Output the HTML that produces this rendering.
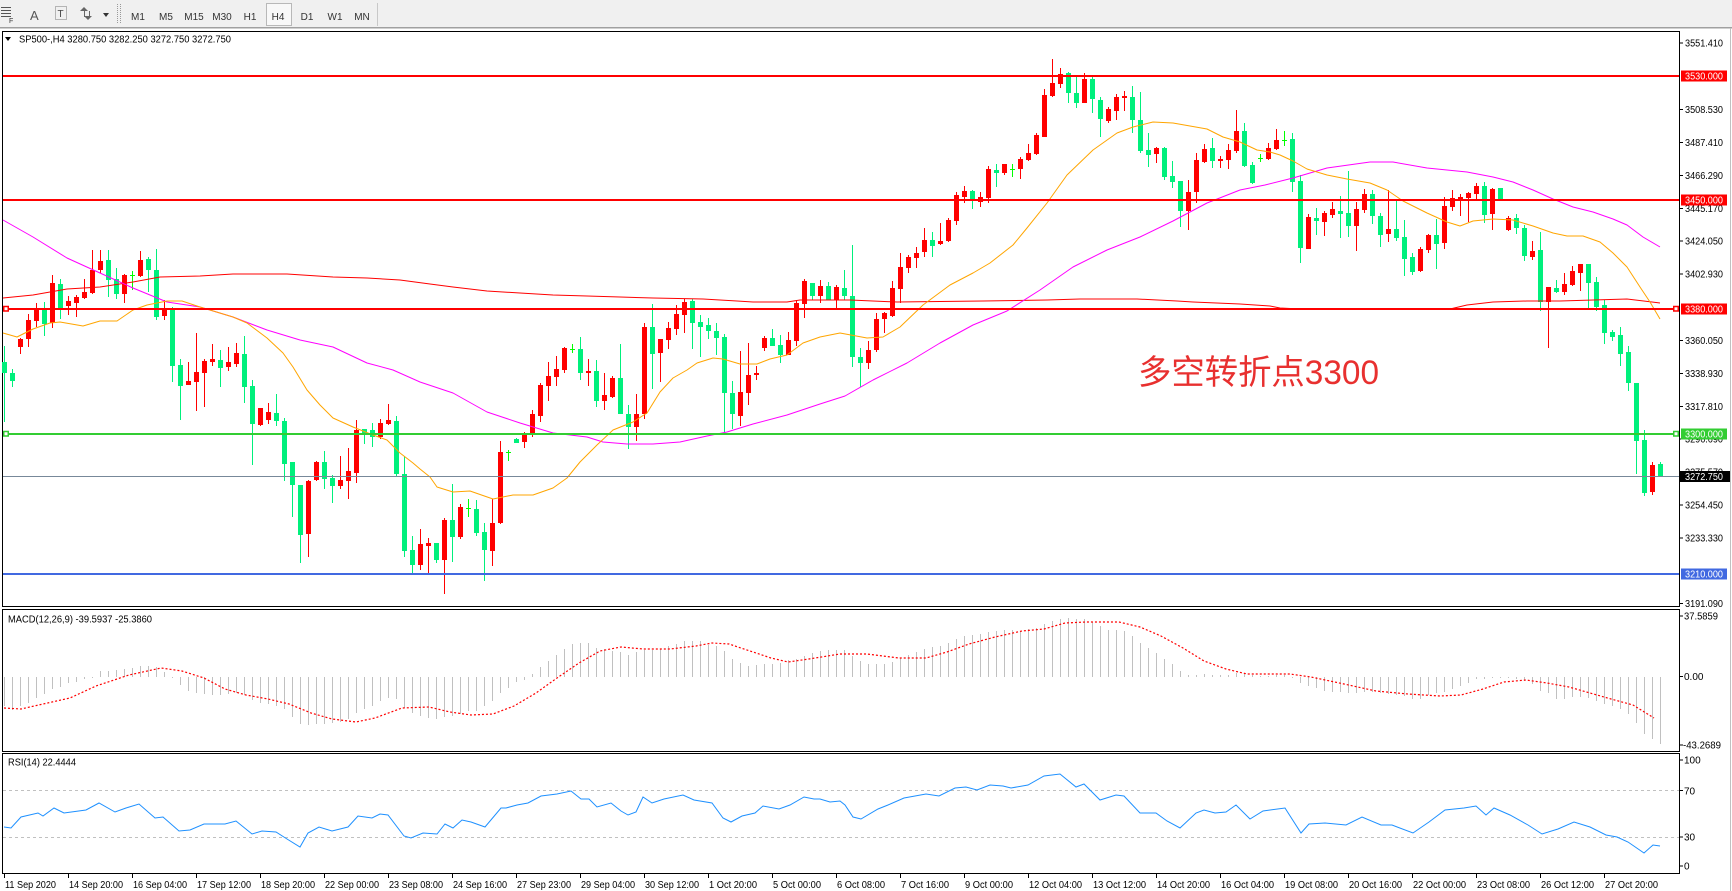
<!DOCTYPE html>
<html>
<head>
<meta charset="utf-8">
<style>
html,body{margin:0;padding:0;background:#fff;}
body{width:1732px;height:891px;overflow:hidden;}
svg{display:block;}
text{font-family:"Liberation Sans",sans-serif;}
</style>
</head>
<body>
<svg width="1732" height="891" viewBox="0 0 1732 891" xmlns="http://www.w3.org/2000/svg">
<rect x="0" y="0" width="1732" height="891" fill="#ffffff"/>
<!-- toolbar -->
<rect x="0" y="0" width="1732" height="27" fill="#f0f0f0"/>
<rect x="0" y="27" width="1732" height="1.5" fill="#a0a0a0"/>
<g fill="#555">
<rect x="1" y="7" width="10" height="1"/><rect x="1" y="10" width="10" height="1"/><rect x="1" y="13" width="10" height="1"/><rect x="1" y="16" width="10" height="1"/>
</g>
<text x="9" y="23" font-size="7" fill="#333">F</text>
<text x="30" y="20" font-size="13" fill="#555">A</text>
<rect x="55.5" y="6.5" width="11" height="13" fill="none" stroke="#777" stroke-dasharray="1 1"/>
<text x="57.5" y="17" font-size="10" fill="#444">T</text>
<polygon points="84,7 88,11 80,11" fill="#666"/><polygon points="88,20 92,16 84,16" fill="#666"/>
<rect x="84" y="11" width="1" height="6" fill="#666"/><rect x="89" y="11" width="1" height="5" fill="#666"/>
<polygon points="103,13 109,13 106,17" fill="#333"/>
<line x1="117.5" y1="4" x2="117.5" y2="24" stroke="#999" stroke-dasharray="1 1"/>
<line x1="120.5" y1="4" x2="120.5" y2="24" stroke="#999" stroke-dasharray="1 1"/>
<rect x="266.5" y="3.5" width="25" height="22" fill="#f8f8f8" stroke="#b8b8b8"/>
<g font-size="10" fill="#333" text-anchor="middle">
<text x="138" y="20">M1</text><text x="166" y="20">M5</text><text x="194" y="20">M15</text><text x="222" y="20">M30</text><text x="250" y="20">H1</text><text x="278" y="20">H4</text><text x="307" y="20">D1</text><text x="335" y="20">W1</text><text x="362" y="20">MN</text>
</g>
<line x1="377.5" y1="3" x2="377.5" y2="26" stroke="#c8c8c8"/>

<!-- frames -->
<g fill="none" stroke="#000" stroke-width="1">
<rect x="2.5" y="31.5" width="1677" height="575"/>
<rect x="2.5" y="609.5" width="1677" height="142"/>
<rect x="2.5" y="753.5" width="1677" height="120"/>
</g>
<line x1="1730.5" y1="28" x2="1730.5" y2="891" stroke="#c0c0c0"/>

<!-- header -->
<polygon points="5,37 11,37 8,41" fill="#000"/>
<text x="19" y="42.5" font-size="10" fill="#000" textLength="212" lengthAdjust="spacingAndGlyphs">SP500-,H4  3280.750 3282.250 3272.750 3272.750</text>

<!-- candles -->
<g shape-rendering="crispEdges">
<path fill="none" stroke="#ff0000" stroke-width="1" d="M20.5 338V354 M28.5 314V347 M36.5 303V327 M52.5 275V328 M68.5 296V315 M76.5 295V317 M84.5 279V299 M92.5 250V294 M100.5 250V273 M124.5 274V303 M140.5 251V277 M164.5 300V320 M188.5 362V385 M196.5 333V411 M204.5 359V407 M212.5 344V366 M228.5 347V371 M236.5 343V367 M260.5 408V426 M268.5 403V424 M308.5 480V557 M316.5 461V481 M340.5 456V489 M348.5 448V499 M356.5 420V483 M380.5 419V439 M388.5 404V425 M420.5 529V570 M428.5 538V573 M444.5 518V594 M460.5 504V539 M492.5 499V566 M500.5 441V524 M524.5 432V448 M532.5 410V437 M540.5 383V422 M548.5 362V401 M556.5 356V386 M564.5 347V373 M588.5 359V386 M604.5 373V410 M612.5 376V398 M636.5 394V441 M644.5 323V419 M660.5 339V382 M668.5 322V349 M676.5 305V335 M684.5 299V333 M740.5 351V426 M748.5 343V405 M756.5 366V380 M764.5 336V351 M788.5 332V355 M796.5 300V346 M804.5 279V318 M820.5 280V303 M836.5 285V308 M868.5 341V369 M876.5 313V352 M884.5 312V333 M892.5 281V317 M900.5 253V303 M908.5 255V273 M916.5 247V268 M924.5 228V257 M940.5 223V245 M948.5 218V242 M956.5 192V225 M964.5 186V203 M980.5 192V207 M988.5 166V203 M1004.5 164V175 M1020.5 157V179 M1028.5 144V161 M1036.5 133V155 M1044.5 89V137 M1052.5 59V97 M1060.5 68V88 M1084.5 73V103 M1108.5 107V123 M1116.5 94V120 M1124.5 91V111 M1156.5 147V163 M1188.5 180V230 M1196.5 153V203 M1204.5 144V163 M1220.5 156V168 M1228.5 144V169 M1236.5 110V153 M1268.5 143V160 M1276.5 129V150 M1308.5 214V249 M1324.5 211V236 M1332.5 202V218 M1356.5 202V251 M1364.5 189V213 M1388.5 190V242 M1420.5 247V272 M1428.5 234V253 M1444.5 197V249 M1452.5 190V211 M1460.5 194V216 M1468.5 192V222 M1476.5 183V199 M1492.5 188V230 M1508.5 216V231 M1532.5 241V260 M1548.5 287V348 M1564.5 273V295 M1572.5 266V286 M1580.5 264V291 M1652.5 462V495"/>
<path fill="#ff0000" d="M18 339h5v8h-5z M26 320h5v19h-5z M34 309h5v12h-5z M50 283h5v40h-5z M66 301h5v5h-5z M74 297h5v6h-5z M82 292h5v6h-5z M90 270h5v23h-5z M98 261h5v9h-5z M122 275h5v19h-5z M138 260h5v16h-5z M162 309h5v7h-5z M186 381h5v4h-5z M194 372h5v10h-5z M202 361h5v12h-5z M210 359h5v3h-5z M226 362h5v5h-5z M234 353h5v11h-5z M258 408h5v17h-5z M266 412h5v8h-5z M306 481h5v53h-5z M314 462h5v18h-5z M338 480h5v6h-5z M346 471h5v10h-5z M354 430h5v43h-5z M378 423h5v14h-5z M386 420h5v4h-5z M418 544h5v21h-5z M426 543h5v3h-5z M442 520h5v40h-5z M458 507h5v30h-5z M490 523h5v28h-5z M498 452h5v71h-5z M522 434h5v8h-5z M530 414h5v19h-5z M538 385h5v31h-5z M546 376h5v10h-5z M554 369h5v8h-5z M562 348h5v22h-5z M586 371h5v2h-5z M602 395h5v6h-5z M610 378h5v19h-5z M634 414h5v13h-5z M642 327h5v87h-5z M658 339h5v14h-5z M666 328h5v12h-5z M674 314h5v15h-5z M682 302h5v13h-5z M738 392h5v24h-5z M746 375h5v18h-5z M754 373h5v2h-5z M762 338h5v10h-5z M786 340h5v15h-5z M794 303h5v38h-5z M802 281h5v23h-5z M818 286h5v10h-5z M834 287h5v13h-5z M866 350h5v13h-5z M874 319h5v31h-5z M882 313h5v6h-5z M890 288h5v28h-5z M898 267h5v22h-5z M906 257h5v11h-5z M914 253h5v5h-5z M922 240h5v12h-5z M938 241h5v3h-5z M946 220h5v21h-5z M954 195h5v26h-5z M962 191h5v6h-5z M978 197h5v5h-5z M986 169h5v29h-5z M1002 164h5v9h-5z M1018 159h5v10h-5z M1026 153h5v7h-5z M1034 135h5v19h-5z M1042 95h5v42h-5z M1050 83h5v13h-5z M1058 74h5v10h-5z M1082 79h5v24h-5z M1106 109h5v12h-5z M1114 97h5v14h-5z M1122 96h5v2h-5z M1154 148h5v6h-5z M1186 192h5v19h-5z M1194 160h5v32h-5z M1202 149h5v13h-5z M1218 159h5v2h-5z M1226 150h5v10h-5z M1234 131h5v20h-5z M1266 148h5v11h-5z M1274 140h5v9h-5z M1306 217h5v32h-5z M1322 213h5v9h-5z M1330 209h5v6h-5z M1354 209h5v17h-5z M1362 194h5v16h-5z M1386 229h5v5h-5z M1418 249h5v22h-5z M1426 235h5v15h-5z M1442 206h5v37h-5z M1450 198h5v9h-5z M1458 197h5v2h-5z M1466 193h5v5h-5z M1474 186h5v8h-5z M1490 189h5v25h-5z M1506 218h5v12h-5z M1530 251h5v6h-5z M1546 287h5v15h-5z M1562 284h5v8h-5z M1570 271h5v14h-5z M1578 264h5v9h-5z M1650 465h5v27h-5z"/>
<path fill="none" stroke="#00f07c" stroke-width="1" d="M4.5 346V422 M12.5 369V387 M44.5 302V336 M60.5 279V319 M108.5 250V297 M116.5 268V299 M148.5 257V292 M156.5 249V320 M172.5 307V382 M180.5 359V420 M220.5 350V387 M244.5 336V403 M252.5 380V465 M276.5 394V426 M284.5 418V481 M292.5 462V517 M300.5 485V563 M324.5 451V489 M332.5 475V503 M364.5 429V444 M372.5 423V447 M396.5 416V476 M404.5 456V557 M412.5 536V573 M436.5 543V563 M452.5 484V562 M476.5 500V536 M484.5 523V581 M516.5 438V443 M580.5 337V380 M596.5 360V407 M620.5 344V414 M628.5 405V449 M652.5 304V389 M692.5 299V349 M700.5 315V357 M708.5 318V339 M716.5 323V355 M724.5 334V433 M732.5 381V429 M772.5 329V346 M780.5 335V363 M812.5 283V300 M828.5 282V300 M844.5 270V300 M852.5 245V367 M860.5 348V387 M932.5 232V257 M972.5 190V209 M996.5 164V187 M1068.5 72V103 M1076.5 77V108 M1092.5 77V113 M1100.5 97V137 M1132.5 86V133 M1140.5 92V153 M1148.5 133V167 M1164.5 147V180 M1172.5 161V188 M1180.5 181V227 M1212.5 138V168 M1244.5 123V167 M1252.5 162V184 M1292.5 133V192 M1300.5 175V263 M1316.5 208V235 M1340.5 196V238 M1348.5 171V237 M1372.5 190V224 M1380.5 213V247 M1396.5 201V241 M1404.5 220V276 M1412.5 253V275 M1436.5 219V269 M1484.5 182V223 M1500.5 188V199 M1516.5 214V234 M1524.5 225V261 M1540.5 232V311 M1556.5 280V293 M1588.5 264V308 M1596.5 277V311 M1604.5 300V344 M1612.5 330V341 M1620.5 327V366 M1628.5 346V391 M1636.5 383V474 M1644.5 430V496 M1660.5 462V477"/>
<path fill="#00f07c" d="M2 362h5v11h-5z M10 373h5v8h-5z M42 309h5v15h-5z M58 284h5v24h-5z M106 260h5v20h-5z M114 279h5v15h-5z M146 259h5v11h-5z M154 270h5v47h-5z M170 308h5v58h-5z M178 365h5v21h-5z M218 360h5v8h-5z M242 354h5v33h-5z M250 386h5v38h-5z M274 413h5v8h-5z M282 421h5v43h-5z M290 462h5v23h-5z M298 485h5v50h-5z M322 462h5v17h-5z M330 478h5v8h-5z M362 429h5v4h-5z M370 430h5v7h-5z M394 421h5v53h-5z M402 474h5v77h-5z M410 550h5v15h-5z M434 543h5v17h-5z M450 520h5v17h-5z M474 509h5v24h-5z M482 532h5v18h-5z M514 439h5v4h-5z M578 349h5v24h-5z M594 371h5v30h-5z M618 378h5v36h-5z M626 414h5v13h-5z M650 327h5v27h-5z M690 301h5v22h-5z M698 322h5v5h-5z M706 325h5v6h-5z M714 331h5v7h-5z M722 337h5v56h-5z M730 393h5v21h-5z M770 338h5v8h-5z M778 345h5v10h-5z M810 283h5v13h-5z M826 286h5v14h-5z M842 288h5v8h-5z M850 296h5v61h-5z M858 357h5v6h-5z M930 240h5v6h-5z M970 191h5v8h-5z M994 170h5v3h-5z M1066 73h5v20h-5z M1074 93h5v10h-5z M1090 79h5v20h-5z M1098 100h5v19h-5z M1130 97h5v23h-5z M1138 120h5v31h-5z M1146 150h5v5h-5z M1162 148h5v29h-5z M1170 176h5v6h-5z M1178 181h5v30h-5z M1210 148h5v13h-5z M1242 131h5v35h-5z M1250 165h5v18h-5z M1290 139h5v43h-5z M1298 181h5v67h-5z M1314 218h5v3h-5z M1338 211h5v3h-5z M1346 213h5v13h-5z M1370 194h5v22h-5z M1378 216h5v19h-5z M1394 229h5v9h-5z M1402 237h5v22h-5z M1410 257h5v15h-5z M1434 235h5v9h-5z M1482 186h5v29h-5z M1498 188h5v11h-5z M1514 218h5v10h-5z M1522 228h5v28h-5z M1538 250h5v52h-5z M1554 288h5v4h-5z M1586 264h5v19h-5z M1594 282h5v25h-5z M1602 305h5v28h-5z M1610 332h5v5h-5z M1618 335h5v19h-5z M1626 352h5v31h-5z M1634 383h5v58h-5z M1642 440h5v53h-5z M1658 464h5v13h-5z"/>
<path fill="none" stroke="#00ff00" stroke-width="1" d="M132.5 271V290 M468.5 499V517 M508.5 450V461 M572.5 344V353 M1012.5 164V177 M1260.5 154V162 M1284.5 131V146"/>
<path fill="#00ff00" d="M130 275h5v1h-5z M466 508h5v1h-5z M506 452h5v1h-5z M570 349h5v1h-5z M1010 169h5v1h-5z M1258 158h5v1h-5z M1282 140h5v1h-5z"/>
</g>

<!-- moving averages -->
<g fill="none" stroke-width="1" stroke-linejoin="round">
<polyline stroke="#ff0000" points="3,298 33,295 67,289 100,287 133,282 160,277 200,276 233,274 287,274 333,277 367,278 400,280 430,284 453,287 487,291 520,293 553,295 587,296 620,297 653,298 703,299 737,301 753,302 787,302 800,300 850,300 897,302 983,301 1047,300 1080,299 1137,299 1177,301 1193,302 1240,304 1270,306 1280,308 1300,309 1450,309 1467,305 1493,302 1527,301 1560,301 1627,299 1660,303"/>
<polyline stroke="#ff00ff" points="3,220 33,237 67,258 100,273 133,288 167,302 200,307 233,317 267,330 300,340 333,347 367,363 393,370 420,382 453,393 487,412 520,423 553,433 587,437 603,442 627,444 653,444 680,442 707,436 727,432 753,424 787,415 820,404 845,396 873,380 907,363 940,343 973,325 1007,311 1040,290 1073,267 1107,250 1140,237 1173,221 1207,203 1240,190 1265,185 1293,178 1327,168 1370,162 1393,162 1427,168 1447,170 1467,172 1493,177 1513,182 1533,190 1553,199 1573,207 1593,212 1613,219 1627,225 1643,237 1660,247"/>
<polyline stroke="#ffa500" points="3,333 17,337 33,329 50,323 60,322 83,326 100,321 117,321 133,310 147,305 167,301 182,301 200,307 233,317 247,323 267,338 283,353 293,367 307,390 320,405 333,418 353,427 373,435 387,440 400,453 413,463 420,469 430,477 437,487 453,492 470,491 493,499 513,495 533,495 553,488 567,478 580,462 597,445 613,430 633,422 647,413 660,392 673,378 687,370 697,363 713,358 723,359 740,364 757,364 770,359 787,355 803,343 820,337 840,333 867,338 883,337 900,327 923,305 950,285 973,273 990,263 1013,245 1027,228 1047,203 1067,175 1093,150 1117,133 1133,127 1153,122 1173,123 1190,126 1207,129 1223,137 1240,142 1257,150 1270,152 1280,155 1293,161 1307,169 1327,175 1347,179 1370,183 1387,190 1403,201 1427,213 1447,222 1460,226 1473,221 1493,219 1513,220 1533,226 1553,233 1567,236 1583,236 1600,242 1613,253 1627,267 1640,287 1650,302 1660,319"/>
</g>

<!-- horizontal level lines -->
<g shape-rendering="crispEdges">
<rect x="3" y="75" width="1676" height="2" fill="#ff0000"/>
<rect x="3" y="199" width="1676" height="2" fill="#ff0000"/>
<rect x="3" y="308" width="1676" height="2" fill="#ff0000"/>
<rect x="3" y="433" width="1676" height="2" fill="#32cd32"/>
<rect x="3" y="476" width="1676" height="1" fill="#778899"/>
<rect x="3" y="573" width="1676" height="2" fill="#4169e1"/>
</g>
<g fill="#fff" stroke-width="1.5">
<rect x="3.75" y="306.5" width="4.5" height="4.5" stroke="#ff0000"/>
<rect x="3.75" y="431.5" width="4.5" height="4.5" stroke="#32cd32"/>
<rect x="1673.75" y="306.5" width="4.5" height="4.5" stroke="#ff0000"/>
<rect x="1673.75" y="431.5" width="4.5" height="4.5" stroke="#32cd32"/>
</g>

<!-- annotation -->
<text x="1138" y="384" font-size="34" fill="#e8302f" textLength="241" lengthAdjust="spacingAndGlyphs" style="font-family:'Liberation Sans','Noto Sans CJK SC',sans-serif;">多空转折点3300</text>

<!-- price axis -->
<g stroke="#000" shape-rendering="crispEdges">
<path d="M1679 43h4 M1679 109.5h4 M1679 142.5h4 M1679 175.5h4 M1679 208.5h4 M1679 241h4 M1679 274h4 M1679 340.5h4 M1679 373.5h4 M1679 406.5h4 M1679 439h4 M1679 472h4 M1679 505h4 M1679 538h4 M1679 603.5h4"/>
</g>
<g font-size="10" fill="#000">
<text x="1685" y="46.5" textLength="38" lengthAdjust="spacingAndGlyphs">3551.410</text>
<text x="1685" y="113" textLength="38" lengthAdjust="spacingAndGlyphs">3508.530</text>
<text x="1685" y="146" textLength="38" lengthAdjust="spacingAndGlyphs">3487.410</text>
<text x="1685" y="179" textLength="38" lengthAdjust="spacingAndGlyphs">3466.290</text>
<text x="1685" y="212" textLength="38" lengthAdjust="spacingAndGlyphs">3445.170</text>
<text x="1685" y="244.5" textLength="38" lengthAdjust="spacingAndGlyphs">3424.050</text>
<text x="1685" y="277.5" textLength="38" lengthAdjust="spacingAndGlyphs">3402.930</text>
<text x="1685" y="344" textLength="38" lengthAdjust="spacingAndGlyphs">3360.050</text>
<text x="1685" y="377" textLength="38" lengthAdjust="spacingAndGlyphs">3338.930</text>
<text x="1685" y="410" textLength="38" lengthAdjust="spacingAndGlyphs">3317.810</text>
<text x="1685" y="442.5" textLength="38" lengthAdjust="spacingAndGlyphs">3296.690</text>
<text x="1685" y="475.5" textLength="38" lengthAdjust="spacingAndGlyphs">3275.570</text>
<text x="1685" y="508.5" textLength="38" lengthAdjust="spacingAndGlyphs">3254.450</text>
<text x="1685" y="541.5" textLength="38" lengthAdjust="spacingAndGlyphs">3233.330</text>
<text x="1685" y="607" textLength="38" lengthAdjust="spacingAndGlyphs">3191.090</text>
</g>
<g shape-rendering="crispEdges">
<rect x="1681" y="70.5" width="46" height="11" fill="#ff0000"/>
<rect x="1681" y="194.5" width="46" height="11" fill="#ff0000"/>
<rect x="1681" y="303.5" width="46" height="11" fill="#ff0000"/>
<rect x="1681" y="428.5" width="46" height="11" fill="#32cd32"/>
<rect x="1680" y="471" width="50" height="11" fill="#000000"/>
<rect x="1681" y="568.5" width="46" height="11" fill="#4169e1"/>
</g>
<g font-size="10" fill="#fff">
<text x="1685" y="79.5" textLength="38" lengthAdjust="spacingAndGlyphs">3530.000</text>
<text x="1685" y="203.5" textLength="38" lengthAdjust="spacingAndGlyphs">3450.000</text>
<text x="1685" y="312.5" textLength="38" lengthAdjust="spacingAndGlyphs">3380.000</text>
<text x="1685" y="437.5" textLength="38" lengthAdjust="spacingAndGlyphs">3300.000</text>
<text x="1685" y="480" textLength="38" lengthAdjust="spacingAndGlyphs">3272.750</text>
<text x="1685" y="577.5" textLength="38" lengthAdjust="spacingAndGlyphs">3210.000</text>
</g>

<!-- MACD -->
<text x="8" y="622.5" font-size="10" fill="#000" textLength="144" lengthAdjust="spacingAndGlyphs">MACD(12,26,9) -39.5937 -25.3860</text>
<path fill="none" stroke="#c0c0c0" stroke-width="1" shape-rendering="crispEdges" d="M4.5 677V706 M12.5 677V710 M20.5 677V706 M28.5 677V703 M36.5 677V698 M44.5 677V694 M52.5 677V689 M60.5 677V687 M68.5 677V683 M76.5 677V682 M84.5 677V679 M92.5 677V678 M100.5 677V671 M108.5 677V671 M116.5 677V670 M124.5 677V669 M132.5 677V668 M140.5 677V666 M148.5 677V666 M156.5 677V667 M164.5 677V672 M172.5 677V678 M180.5 677V685 M188.5 677V691 M196.5 677V693 M204.5 677V694 M212.5 677V695 M220.5 677V695 M228.5 677V694 M236.5 677V693 M244.5 677V695 M252.5 677V700 M260.5 677V703 M268.5 677V704 M276.5 677V706 M284.5 677V709 M292.5 677V717 M300.5 677V724 M308.5 677V725 M316.5 677V724 M324.5 677V724 M332.5 677V723 M340.5 677V722 M348.5 677V719 M356.5 677V713 M364.5 677V709 M372.5 677V706 M380.5 677V701 M388.5 677V698 M396.5 677V699 M404.5 677V708 M412.5 677V713 M420.5 677V716 M428.5 677V718 M436.5 677V719 M444.5 677V717 M452.5 677V716 M460.5 677V714 M468.5 677V711 M476.5 677V711 M484.5 677V706 M492.5 677V701 M500.5 677V693 M508.5 677V688 M516.5 677V682 M524.5 677V680 M532.5 677V674 M540.5 677V667 M548.5 677V661 M556.5 677V655 M564.5 677V649 M572.5 677V644 M580.5 677V643 M588.5 677V643 M596.5 677V648 M604.5 677V649 M612.5 677V651 M620.5 677V652 M628.5 677V655 M636.5 677V652 M644.5 677V650 M652.5 677V650 M660.5 677V649 M668.5 677V646 M676.5 677V644 M684.5 677V641 M692.5 677V641 M700.5 677V641 M708.5 677V645 M716.5 677V646 M724.5 677V651 M732.5 677V659 M740.5 677V663 M748.5 677V666 M756.5 677V665 M764.5 677V664 M772.5 677V664 M780.5 677V663 M788.5 677V660 M796.5 677V659 M804.5 677V656 M812.5 677V653 M820.5 677V651 M828.5 677V650 M836.5 677V650 M844.5 677V650 M852.5 677V656 M860.5 677V661 M868.5 677V664 M876.5 677V664 M884.5 677V664 M892.5 677V662 M900.5 677V658 M908.5 677V655 M916.5 677V652 M924.5 677V649 M932.5 677V647 M940.5 677V646 M948.5 677V643 M956.5 677V639 M964.5 677V636 M972.5 677V635 M980.5 677V634 M988.5 677V632 M996.5 677V631 M1004.5 677V630 M1012.5 677V630 M1020.5 677V631 M1028.5 677V629 M1036.5 677V628 M1044.5 677V624 M1052.5 677V621 M1060.5 677V619 M1068.5 677V618 M1076.5 677V619 M1084.5 677V619 M1092.5 677V622 M1100.5 677V626 M1108.5 677V630 M1116.5 677V630 M1124.5 677V631 M1132.5 677V636 M1140.5 677V643 M1148.5 677V648 M1156.5 677V653 M1164.5 677V659 M1172.5 677V664 M1180.5 677V671 M1188.5 677V675 M1196.5 677V675 M1204.5 677V674 M1212.5 677V675 M1220.5 677V675 M1228.5 677V675 M1236.5 677V673 M1244.5 677V674 M1252.5 677V675 M1260.5 677V676 M1268.5 677V676 M1276.5 677V675 M1284.5 677V675 M1292.5 677V678 M1300.5 677V683 M1308.5 677V686 M1316.5 677V688 M1324.5 677V691 M1332.5 677V692 M1340.5 677V692 M1348.5 677V693 M1356.5 677V693 M1364.5 677V692 M1372.5 677V692 M1380.5 677V693 M1388.5 677V694 M1396.5 677V695 M1404.5 677V696 M1412.5 677V699 M1420.5 677V699 M1428.5 677V695 M1436.5 677V693 M1444.5 677V692 M1452.5 677V689 M1460.5 677V686 M1468.5 677V683 M1476.5 677V679 M1484.5 677V679 M1492.5 677V678 M1500.5 677V678 M1508.5 677V678 M1516.5 677V679 M1524.5 677V681 M1532.5 677V684 M1540.5 677V691 M1548.5 677V693 M1556.5 677V699 M1564.5 677V699 M1572.5 677V697 M1580.5 677V697 M1588.5 677V698 M1596.5 677V701 M1604.5 677V704 M1612.5 677V706 M1620.5 677V709 M1628.5 677V714 M1636.5 677V723 M1644.5 677V734 M1652.5 677V739 M1660.5 677V744"/>
<polyline fill="none" stroke="#ff0000" stroke-width="1.2" stroke-dasharray="2 2" points="4,708 21,709 43,704 70,698 96,686 129,675 161,668 182,671 204,678 225,689 246,695 268,699 289,704 311,713 332,719 356,722 375,718 402,708 429,707 450,712 471,715 493,714 514,706 536,693 557,678 579,663 600,651 621,647 643,649 670,649 696,646 712,643 729,644 750,651 771,658 788,662 809,659 840,654 867,654 899,658 926,658 947,652 969,644 995,637 1022,631 1044,629 1065,623 1086,622 1119,622 1140,627 1161,636 1183,648 1204,661 1226,669 1247,674 1290,674 1311,677 1344,684 1376,691 1408,694 1440,696 1461,695 1483,689 1504,682 1526,680 1547,683 1569,687 1590,693 1611,699 1633,705 1654,718"/>
<g stroke="#000" shape-rendering="crispEdges"><path d="M1679 616h4 M1679 676.5h4 M1679 745h4"/></g>
<g font-size="10" fill="#000">
<text x="1684" y="619.5" textLength="34" lengthAdjust="spacingAndGlyphs">37.5859</text>
<text x="1684" y="680">0.00</text>
<text x="1683" y="748.5" textLength="38" lengthAdjust="spacingAndGlyphs">-43.2689</text>
</g>

<!-- RSI -->
<text x="8" y="765.5" font-size="10" fill="#000" textLength="68" lengthAdjust="spacingAndGlyphs">RSI(14) 22.4444</text>
<g stroke="#c0c0c0" stroke-dasharray="3 3" shape-rendering="crispEdges">
<line x1="3" y1="790.5" x2="1679" y2="790.5"/>
<line x1="3" y1="837.5" x2="1679" y2="837.5"/>
</g>
<polyline fill="none" stroke="#1e90ff" stroke-width="1" points="4,827 11,828 21,817 38,813 43,816 54,808 64,813 86,810 99,803 115,812 126,808 139,804 155,818 163,817 179,831 190,830 204,824 225,824 236,821 252,834 262,831 276,832 287,839 300,847 308,833 319,827 332,831 348,827 358,816 372,818 380,814 388,815 404,836 411,838 423,833 437,834 445,824 453,828 462,820 471,822 485,827 501,808 506,808 517,805 528,803 541,796 557,794 571,791 581,799 589,799 597,807 611,803 621,811 628,815 636,812 643,797 652,803 664,799 683,795 694,800 712,803 723,818 731,822 742,816 755,813 763,806 779,809 790,805 804,797 814,799 820,799 830,802 840,801 845,805 853,817 861,819 878,809 888,805 904,798 926,794 939,796 955,788 966,787 977,790 990,785 1003,786 1011,788 1028,785 1044,776 1060,774 1076,787 1084,784 1100,800 1116,795 1124,796 1140,813 1156,813 1167,821 1180,828 1196,813 1204,810 1215,813 1226,812 1236,805 1250,819 1263,811 1285,808 1301,833 1309,824 1325,823 1346,825 1362,817 1381,825 1392,825 1413,833 1429,822 1445,810 1464,808 1476,806 1486,815 1494,808 1510,815 1528,825 1542,834 1558,829 1574,822 1590,827 1606,835 1617,837 1628,842 1644,853 1653,845 1660,846"/>
<g stroke="#000" shape-rendering="crispEdges"><path d="M1679 760h4 M1679 790.5h4 M1679 837h4 M1679 866h4"/></g>
<g font-size="10" fill="#000">
<text x="1684" y="763.5">100</text>
<text x="1684" y="794.5">70</text>
<text x="1684" y="840.5">30</text>
<text x="1684" y="869.5">0</text>
</g>

<!-- time axis -->
<g stroke="#000" shape-rendering="crispEdges">
<path d="M4.5 873v5 M68.5 873v5 M132.5 873v5 M196.5 873v5 M260.5 873v5 M324.5 873v5 M388.5 873v5 M452.5 873v5 M516.5 873v5 M580.5 873v5 M644.5 873v5 M708.5 873v5 M772.5 873v5 M836.5 873v5 M900.5 873v5 M964.5 873v5 M1028.5 873v5 M1092.5 873v5 M1156.5 873v5 M1220.5 873v5 M1284.5 873v5 M1348.5 873v5 M1412.5 873v5 M1476.5 873v5 M1540.5 873v5 M1604.5 873v5"/>
</g>
<g font-size="10" fill="#000">
<text x="5" y="888" textLength="51" lengthAdjust="spacingAndGlyphs">11 Sep 2020</text>
<text x="69" y="888" textLength="54" lengthAdjust="spacingAndGlyphs">14 Sep 20:00</text>
<text x="133" y="888" textLength="54" lengthAdjust="spacingAndGlyphs">16 Sep 04:00</text>
<text x="197" y="888" textLength="54" lengthAdjust="spacingAndGlyphs">17 Sep 12:00</text>
<text x="261" y="888" textLength="54" lengthAdjust="spacingAndGlyphs">18 Sep 20:00</text>
<text x="325" y="888" textLength="54" lengthAdjust="spacingAndGlyphs">22 Sep 00:00</text>
<text x="389" y="888" textLength="54" lengthAdjust="spacingAndGlyphs">23 Sep 08:00</text>
<text x="453" y="888" textLength="54" lengthAdjust="spacingAndGlyphs">24 Sep 16:00</text>
<text x="517" y="888" textLength="54" lengthAdjust="spacingAndGlyphs">27 Sep 23:00</text>
<text x="581" y="888" textLength="54" lengthAdjust="spacingAndGlyphs">29 Sep 04:00</text>
<text x="645" y="888" textLength="54" lengthAdjust="spacingAndGlyphs">30 Sep 12:00</text>
<text x="709" y="888" textLength="48" lengthAdjust="spacingAndGlyphs">1 Oct 20:00</text>
<text x="773" y="888" textLength="48" lengthAdjust="spacingAndGlyphs">5 Oct 00:00</text>
<text x="837" y="888" textLength="48" lengthAdjust="spacingAndGlyphs">6 Oct 08:00</text>
<text x="901" y="888" textLength="48" lengthAdjust="spacingAndGlyphs">7 Oct 16:00</text>
<text x="965" y="888" textLength="48" lengthAdjust="spacingAndGlyphs">9 Oct 00:00</text>
<text x="1029" y="888" textLength="53" lengthAdjust="spacingAndGlyphs">12 Oct 04:00</text>
<text x="1093" y="888" textLength="53" lengthAdjust="spacingAndGlyphs">13 Oct 12:00</text>
<text x="1157" y="888" textLength="53" lengthAdjust="spacingAndGlyphs">14 Oct 20:00</text>
<text x="1221" y="888" textLength="53" lengthAdjust="spacingAndGlyphs">16 Oct 04:00</text>
<text x="1285" y="888" textLength="53" lengthAdjust="spacingAndGlyphs">19 Oct 08:00</text>
<text x="1349" y="888" textLength="53" lengthAdjust="spacingAndGlyphs">20 Oct 16:00</text>
<text x="1413" y="888" textLength="53" lengthAdjust="spacingAndGlyphs">22 Oct 00:00</text>
<text x="1477" y="888" textLength="53" lengthAdjust="spacingAndGlyphs">23 Oct 08:00</text>
<text x="1541" y="888" textLength="53" lengthAdjust="spacingAndGlyphs">26 Oct 12:00</text>
<text x="1605" y="888" textLength="53" lengthAdjust="spacingAndGlyphs">27 Oct 20:00</text>
</g>
</svg>
</body>
</html>
